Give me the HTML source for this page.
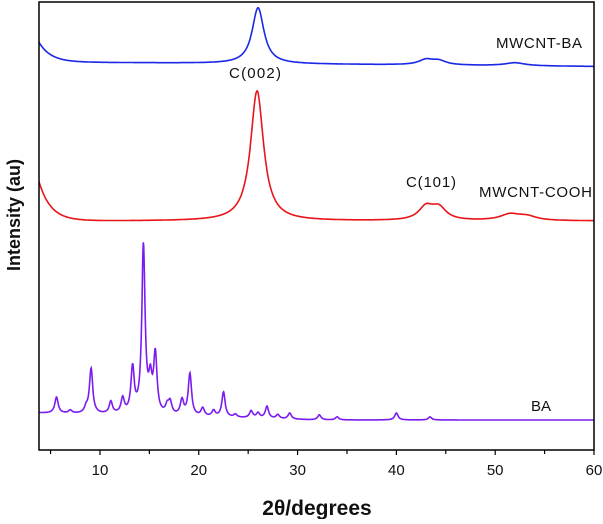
<!DOCTYPE html>
<html><head><meta charset="utf-8"><style>
body{margin:0;background:#fff;font-family:"Liberation Sans",Arial,sans-serif}
svg text{font-family:"Liberation Sans",Arial,sans-serif}
</style></head><body>
<svg id="c" width="603" height="519" viewBox="0 0 603 519" xmlns="http://www.w3.org/2000/svg"></svg>
<script>
// Data: peaks [2theta, height, hwhm] per series (intensity in arbitrary units)
const xTicks = [10, 20, 30, 40, 50, 60];
const baPos = [5.6, 7.0, 8.6, 9.1, 11.1, 12.3, 13.3, 14.4, 15.1, 15.6, 16.8, 17.1, 18.3, 19.1, 20.4, 21.5, 22.5, 23.7, 25.3, 26.0, 26.9, 28.0, 29.2, 32.2, 34.0, 40.0, 43.4];
const baHeight = [16, 3, 5, 45, 12, 15, 45, 168, 30, 58, 8, 12, 15, 42, 8, 6, 25, 3, 7, 5, 12, 4, 6, 5, 3, 7, 3];
const cooPos = [25.9, 43.0, 44.3, 51.5, 53.2];
const cooHeight = [130, 13, 12, 6, 4];
const cooWidth = [0.8, 0.9, 0.9, 1.2, 1.2];
const bluPos = [26.0, 43.0, 44.3, 52.0];
const bluHeight = [56, 5, 4, 3];
const bluWidth = [0.72, 0.9, 0.9, 1.2];
const seriesNames = ["MWCNT-BA", "MWCNT-COOH", "BA"];

const svg = document.getElementById('c');
const NS = 'http://www.w3.org/2000/svg';
const L = 39, R = 594, T = 2, B = 450, XMIN = 3.83, XMAX = 60;
const xs = v => L + (v - XMIN) / (XMAX - XMIN) * (R - L);
const ys = v => 430 - v; // 1 intensity unit = 1px
function el(tag, attrs, parent) { const e = document.createElementNS(NS, tag); for (const k in attrs) e.setAttribute(k, attrs[k]); (parent || svg).appendChild(e); return e; }
function lor(x, p, h, w) { const d = (x - p) / w; return h / (1 + d * d); }

function series(pos, hts, wds, base, color, name) {
  let d = '';
  for (let x = XMIN; x <= XMAX; x += 0.04) {
    let y = base(x);
    for (let i = 0; i < pos.length; i++) y += lor(x, pos[i], hts[i], wds[i]);
    d += (d ? 'L' : 'M') + xs(x).toFixed(1) + ',' + ys(y).toFixed(1);
  }
  const p = el('path', { d: d, fill: 'none', stroke: color, 'stroke-width': 1.6 });
  
  
}
series(baPos, baHeight, baPos.map(() => 0.2), x => 17 - Math.min(7, (x - 4) * 0.25), '#7a1cf0', 'series-ba');
series(cooPos, cooHeight, cooWidth, x => 209 + 34 * Math.exp(-(x - 4) / 1.2), '#e8151b', 'series-mwcnt-cooh');
series(bluPos, bluHeight, bluWidth, x => 368 - (x - 4) * 0.08 + 17 * Math.exp(-(x - 4) / 1.2), '#1b28e6', 'series-mwcnt-ba');

// frame
const f = el('rect', { x: L, y: T, width: R - L, height: B - T, fill: 'none', stroke: '#000', 'stroke-width': 1.5 });


for (let v = 5; v <= 60; v += 5) {
  const major = v % 10 === 0;
  const t = el('line', { x1: xs(v), x2: xs(v), y1: B, y2: B + (major ? 5 : 4), stroke: '#000', 'stroke-width': 1.2 });
  
  
}
xTicks.forEach(v => {
  const t = el('text', { x: xs(v), y: B + 25, 'font-size': 15, 'text-anchor': 'middle', fill: '#111' });
  t.textContent = v;
  
  
});
function label(x, y, txt, name, opts) {
  const t = el('text', Object.assign({ x: x, y: y, 'font-size': 14, fill: '#111' }, opts || {}));
  t.textContent = txt;
  
  
}
label(496, 48, seriesNames[0], 'legend-mwcnt-ba', { textLength: 86, 'font-size': 15 });
label(479, 197, seriesNames[1], 'legend-mwcnt-cooh', { textLength: 113, 'font-size': 15 });
label(531, 411, seriesNames[2], 'legend-ba', { 'font-size': 15 });
label(229, 78, 'C(002)', 'peak-label-c002', { textLength: 52, 'font-size': 15 });
label(406, 187, 'C(101)', 'peak-label-c101', { textLength: 50, 'font-size': 15 });
label(317, 515, '2θ/degrees', 'x-axis-title', { 'font-size': 21, 'font-weight': 'bold', 'text-anchor': 'middle' });
label(0, 0, 'Intensity (au)', 'y-axis-title', { 'font-size': 18, 'font-weight': 'bold', 'text-anchor': 'middle', transform: 'translate(20,215) rotate(-90)' });
</script>
</body></html>
